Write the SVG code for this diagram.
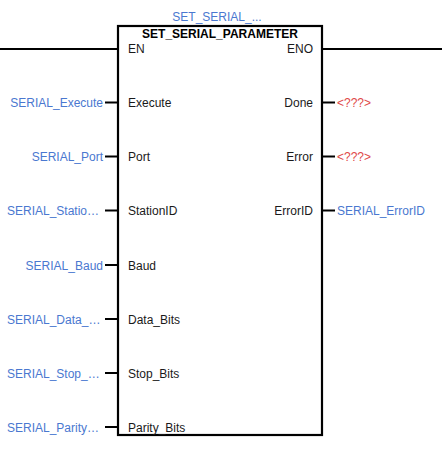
<svg xmlns="http://www.w3.org/2000/svg" width="442" height="458" viewBox="0 0 442 458">
<style>
text{font-family:"Liberation Sans",Arial,sans-serif;font-size:12px}
.pin{fill:#1a1a1a}
.var{fill:#4a78d0}
.err{fill:#e04848}
.ttl{font-weight:bold;fill:#000}
.ln{stroke:#000;stroke-width:2;fill:none}
.box{stroke:#000;stroke-width:2.2;fill:#fff}
</style>
<rect width="442" height="458" fill="#fff"/>
<g id="connectors">
<line class="ln" x1="0" y1="49" x2="118" y2="49"/>
<line class="ln" x1="322" y1="49" x2="442" y2="49"/>
<line class="ln" x1="105" y1="102.5" x2="118" y2="102.5"/>
<line class="ln" x1="105" y1="156.5" x2="118" y2="156.5"/>
<line class="ln" x1="105" y1="210.5" x2="118" y2="210.5"/>
<line class="ln" x1="105" y1="265" x2="118" y2="265"/>
<line class="ln" x1="105" y1="319" x2="118" y2="319"/>
<line class="ln" x1="105" y1="373" x2="118" y2="373"/>
<line class="ln" x1="105" y1="427" x2="118" y2="427"/>
<line class="ln" x1="322" y1="102.5" x2="335" y2="102.5"/>
<line class="ln" x1="322" y1="156.5" x2="335" y2="156.5"/>
<line class="ln" x1="322" y1="210.5" x2="335" y2="210.5"/>
</g>
<g id="block">
<rect class="box" x="118" y="26" width="204" height="409"/>
<text class="var" x="217" y="21" text-anchor="middle">SET_SERIAL_...</text>
<text class="ttl" x="220" y="38" text-anchor="middle">SET_SERIAL_PARAMETER</text>
<text class="pin" x="128" y="53">EN</text>
<text class="pin" x="313" y="53" text-anchor="end">ENO</text>
<text class="pin" x="128" y="107">Execute</text>
<text class="pin" x="128" y="161">Port</text>
<text class="pin" x="128" y="215">StationID</text>
<text class="pin" x="128" y="269.5">Baud</text>
<text class="pin" x="128" y="323.5">Data_Bits</text>
<text class="pin" x="128" y="377.5">Stop_Bits</text>
<text class="pin" x="128" y="431.5">Parity_Bits</text>
<text class="pin" x="313" y="107" text-anchor="end">Done</text>
<text class="pin" x="313" y="161" text-anchor="end">Error</text>
<text class="pin" x="313" y="215" text-anchor="end">ErrorID</text>
</g>
<g id="inputs">
<text class="var" x="103" y="107" text-anchor="end">SERIAL_Execute</text>
<text class="var" x="103" y="161" text-anchor="end">SERIAL_Port</text>
<text class="var" x="7" y="215">SERIAL_Statio…</text>
<text class="var" x="103" y="269.5" text-anchor="end">SERIAL_Baud</text>
<text class="var" x="7" y="323.5">SERIAL_Data_…</text>
<text class="var" x="7" y="377.5">SERIAL_Stop_…</text>
<text class="var" x="7" y="431.5">SERIAL_Parity…</text>
</g>
<g id="outputs">
<text class="err" x="337" y="107">&lt;???&gt;</text>
<text class="err" x="337" y="161">&lt;???&gt;</text>
<text class="var" x="337" y="215">SERIAL_ErrorID</text>
</g>
</svg>
